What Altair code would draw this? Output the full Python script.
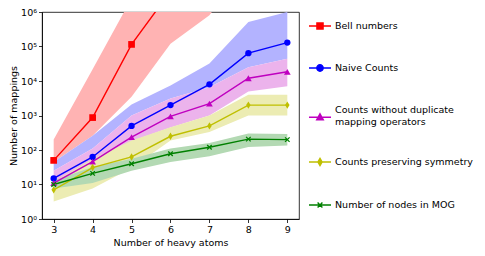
import altair as alt
import pandas as pd

x_atoms = [3, 4, 5, 6, 7, 8, 9]
series_names = [
    "Bell numbers",
    "Naive Counts",
    "Counts without duplicate mapping operators",
    "Counts preserving symmetry",
    "Number of nodes in MOG",
]

bell_mid = [50, 870, 1.15e5, 4e6, 2e8, 1.2e10, 7e11]
bell_lo = [45, 260, 3500, 1.2e5, 8e5, 3e7, 1e9]
bell_hi = [200, 2.2e4, 2.5e6, 3e8, 5e10, 1e13, 3e15]

naive_mid = [15, 63, 500, 2000, 8000, 6.4e4, 1.3e5]
naive_lo = [25, 110, 1000, 3100, 6600, 2.5e4, 4.4e4]
naive_hi = [45, 260, 2100, 7400, 3.2e4, 5.1e5, 1e6]

dup_mid = [11, 46, 236, 940, 2200, 1.2e4, 1.85e4]
dup_lo = [8, 40, 180, 450, 1000, 5000, 7000]
dup_hi = [25, 110, 1000, 3100, 6600, 2.5e4, 4.4e4]

sym_mid = [7, 31, 63, 250, 500, 2000, 2000]
sym_lo = [3.2, 7.7, 30, 190, 330, 1000, 1000]
sym_hi = [12, 55, 190, 460, 1000, 4000, 4000]

mog_mid = [10, 21, 40, 78, 120, 207, 200]
mog_lo = [7.7, 11, 25, 45, 66, 122, 135]
mog_hi = [13, 32, 56, 110, 160, 300, 290]

line_colors = ["#ff0000", "#0000ff", "#bf00bf", "#bfbf00", "#008000"]
band_colors = ["#ffb3b3", "#b3b3ff", "#ecb3ec", "#ececb3", "#b3d9b3"]

mids = [bell_mid, naive_mid, dup_mid, sym_mid, mog_mid]
los = [bell_lo, naive_lo, dup_lo, sym_lo, mog_lo]
his = [bell_hi, naive_hi, dup_hi, sym_hi, mog_hi]

# plot marker shapes
marker_shapes = [
    "square",
    "circle",
    "triangle-up",
    "M0,-1L0.6,0L0,1L-0.6,0Z",
    "M-0.8,-0.8L0.8,0.8M-0.8,0.8L0.8,-0.8",
]
marker_sizes = [45, 40, 45, 55, 32]
marker_filled = [True, True, True, True, False]

# legend symbols: line segment + marker (third one sits lower, beside a two-line label)
legend_shapes = [
    "M-1,0L1,0M-0.28,-0.28L0.28,-0.28L0.28,0.28L-0.28,0.28Z",
    "M-1,0L1,0M-0.29,0A0.29,0.29 0 1,0 0.29,0A0.29,0.29 0 1,0 -0.29,0",
    "M-1,0.66L1,0.66M0,0.34L0.3,0.88L-0.3,0.88Z",
    "M-1,0L1,0M0,-0.32L0.19,0L0,0.32L-0.19,0Z",
    "M-1,0L1,0M-0.22,-0.22L0.22,0.22M-0.22,0.22L0.22,-0.22",
]

rows = []
for name, m, lo, hi in zip(series_names, mids, los, his):
    for xv, a, b, c in zip(x_atoms, m, lo, hi):
        rows.append({"series": name, "x": xv, "mid": a, "lo": b, "hi": c})
df = pd.DataFrame(rows)

FONT = "DejaVu Sans"
xscale = alt.Scale(domain=[2.7, 9.3], nice=False, zero=False)
yscale = alt.Scale(type="log", domain=[1, 1e6], nice=False)

xenc = alt.X(
    "x:Q",
    scale=xscale,
    axis=alt.Axis(
        values=x_atoms, format="d", title="Number of heavy atoms", grid=False,
        tickSize=3.5, labelPadding=2, titlePadding=3,
    ),
)
yaxis = alt.Axis(
    values=[1, 10, 100, 1000, 1e4, 1e5, 1e6],
    labelExpr="'10' + ['⁰','¹','²','³','⁴','⁵','⁶'][round(log(datum.value)/LN10)]",
    title="Number of mappings", grid=False, tickSize=3.5, labelPadding=2, titlePadding=2.5,
)

base = alt.Chart(df)
layers = []
for i, name in enumerate(series_names):
    layers.append(
        base.transform_filter(alt.datum.series == name)
        .mark_area(clip=True, color=band_colors[i], opacity=1)
        .encode(x=xenc, y=alt.Y("lo:Q", scale=yscale, axis=yaxis), y2="hi:Q")
    )
for i, name in enumerate(series_names):
    layers.append(
        base.transform_filter(alt.datum.series == name)
        .mark_line(clip=True, color=line_colors[i], strokeWidth=1.4)
        .encode(x=xenc, y=alt.Y("mid:Q", scale=yscale, axis=yaxis))
    )
for i, name in enumerate(series_names):
    layers.append(
        base.transform_filter(alt.datum.series == name)
        .mark_point(
            clip=True, color=line_colors[i], filled=marker_filled[i], opacity=1,
            shape=marker_shapes[i], size=marker_sizes[i], strokeWidth=1.3,
        )
        .encode(x=xenc, y=alt.Y("mid:Q", scale=yscale, axis=yaxis))
    )

two_line = "Counts without duplicate mapping operators"
legend = alt.Legend(
    title=None, orient="none", legendX=266, legendY=2, padding=0,
    symbolSize=484, symbolStrokeWidth=1.4, rowPadding=24, labelOffset=3,
    labelFont=FONT, labelFontSize=9.5, labelColor="black", labelLimit=300,
    labelExpr=f"datum.label == '{two_line}' ? ['Counts without duplicate', '\u2004mapping operators'] : datum.label",
)
legend_layer = (
    base.transform_filter("datum.x < 0")
    .mark_point(filled=True, opacity=1, clip=True)
    .encode(
        x=xenc,
        y=alt.Y("mid:Q", scale=yscale, axis=yaxis),
        fill=alt.Fill("series:N", scale=alt.Scale(domain=series_names, range=line_colors), legend=legend),
        stroke=alt.Stroke("series:N", scale=alt.Scale(domain=series_names, range=line_colors), legend=legend),
        shape=alt.Shape("series:N", scale=alt.Scale(domain=series_names, range=legend_shapes), legend=legend),
    )
)
layers.append(legend_layer)

chart = (
    alt.layer(*layers)
    .properties(
        width=257, height=207,
        autosize=alt.AutoSizeParams(type="none"),
        padding={"left": 34, "top": 4, "right": 178, "bottom": 29},
    )
    .configure_view(stroke="black", strokeWidth=0.8)
    .configure_axis(
        labelFont=FONT, titleFont=FONT, labelFontSize=9.5, titleFontSize=9.5,
        titleFontWeight="normal", labelColor="black", titleColor="black",
        domainColor="black", tickColor="black", domainWidth=0.8, tickWidth=0.8,
    )
)

chart.save("out.html", embed_options={"renderer": "svg", "actions": False})
